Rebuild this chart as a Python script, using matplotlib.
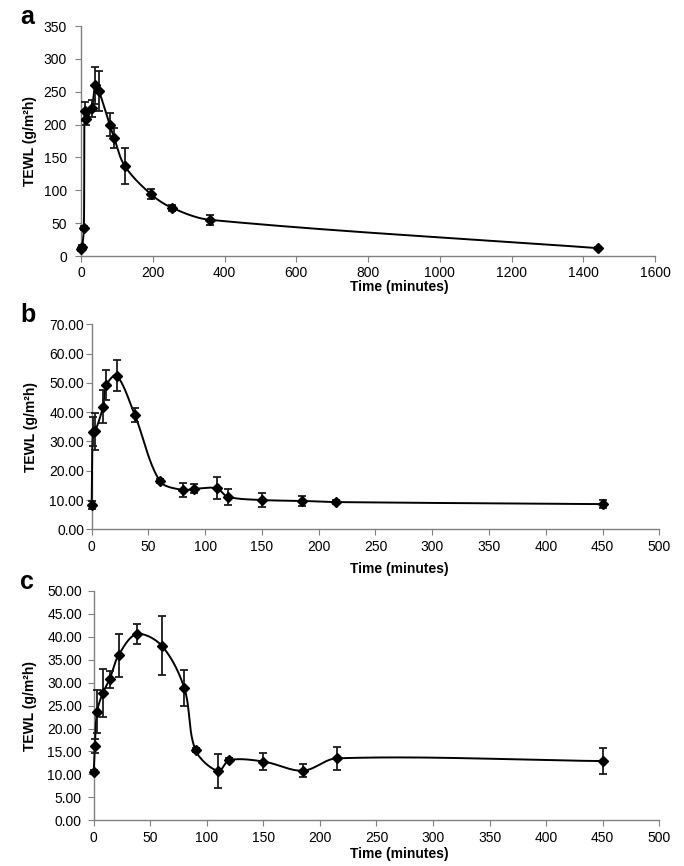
import numpy as np
import matplotlib.pyplot as plt
from matplotlib.ticker import FormatStrFormatter

plt.rcParams['font.family'] = ['Liberation Sans', 'DejaVu Sans']

# panel a
time_a = [0, 3, 8, 10, 15, 30, 40, 50, 80, 92, 122, 195, 255, 360, 1440]
tewl_a = [10, 13, 43, 220, 209, 225, 260, 251, 200, 180, 137, 94, 73, 55, 12]
err_a = [2, 3, 3, 15, 10, 13, 28, 30, 17, 15, 28, 8, 5, 8, 2]

# panel b
time_b = [0, 1, 3, 10, 13, 22, 38, 60, 80, 90, 110, 120, 150, 185, 215, 450]
tewl_b = [8.3, 33.3, 33.5, 41.9, 49.3, 52.5, 39.0, 16.5, 13.4, 13.8, 14.0, 11.1, 10.0, 9.7, 9.3, 8.6]
err_b = [1.2, 5.0, 6.3, 5.5, 5.2, 5.4, 2.5, 0.7, 2.5, 1.5, 3.7, 2.7, 2.3, 1.8, 0.8, 1.3]

# panel c
time_c = [0, 1, 3, 8, 14, 22, 38, 60, 80, 90, 110, 120, 150, 185, 215, 450]
tewl_c = [10.45, 16.2, 23.7, 27.7, 30.7, 36.0, 40.6, 38.1, 28.9, 15.3, 10.7, 13.1, 12.8, 10.8, 13.5, 12.9]
err_c = [0.4, 1.6, 4.7, 5.2, 1.9, 4.7, 2.2, 6.5, 3.9, 0.5, 3.7, 0.4, 1.9, 1.4, 2.5, 2.8]


def smooth_line(ax, x, y):
    # Excel style smoothed line, spline done in screen space,
    # tangents scaled by segment length so long gaps don't kink
    pts = ax.transData.transform(np.column_stack([x, y]))
    p = np.vstack([pts[0], pts, pts[-1]])
    t = np.linspace(0, 1, 40)[:, None]
    out = []
    for i in range(1, len(p) - 2):
        p0, p1, p2, p3 = p[i - 1], p[i], p[i + 1], p[i + 2]
        l01 = np.linalg.norm(p1 - p0)
        l12 = np.linalg.norm(p2 - p1)
        l23 = np.linalg.norm(p3 - p2)
        c1 = p1 + (p2 - p0) * l12 / (3 * (l01 + l12) + 1e-9)
        c2 = p2 - (p3 - p1) * l12 / (3 * (l12 + l23) + 1e-9)
        out.append((1 - t)**3 * p1 + 3 * (1 - t)**2 * t * c1 + 3 * (1 - t) * t**2 * c2 + t**3 * p2)
    curve = ax.transData.inverted().transform(np.vstack(out))
    ax.plot(curve[:, 0], curve[:, 1], color='black', lw=1.4, zorder=3, clip_on=False)


fig = plt.figure(figsize=(6.84, 8.66), dpi=100)

panels = [
    ('a', time_a, tewl_a, err_a, [81, 26, 655, 256], 1600, 200, 350, 50, '%d', 6, 30, 287),
    ('b', time_b, tewl_b, err_b, [91.7, 324.3, 659.3, 529.3], 500, 50, 70, 10, '%.2f', 1.5, 31, 569),
    ('c', time_c, tewl_c, err_c, [93.7, 591, 659.3, 820.2], 500, 50, 50, 5, '%.2f', 4.5, 30, 854),
]

W, H = 684, 866
for letter, tx, ty, te, box, xmax, xstep, ymax, ystep, fmt, ypad, ylab_x, xlab_y in panels:
    l, t, r, b = box
    ax = fig.add_axes([l / W, 1 - b / H, (r - l) / W, (b - t) / H])
    ax.set_xlim(0, xmax)
    ax.set_ylim(0, ymax)
    ax.set_xticks(np.arange(0, xmax + 1, xstep))
    ax.set_yticks(np.arange(0, ymax + 0.001, ystep))
    ax.yaxis.set_major_formatter(FormatStrFormatter(fmt))
    for s in ['top', 'right']:
        ax.spines[s].set_visible(False)
    for s in ['left', 'bottom']:
        ax.spines[s].set_color('#808080')
        ax.spines[s].set_linewidth(1.0)
        ax.spines[s].set_zorder(1)
    ax.tick_params(direction='out', length=4, width=0.8, color='#808080', labelsize=10)
    ax.tick_params(axis='y', pad=ypad)

    smooth_line(ax, tx, ty)
    ax.errorbar(tx, ty, yerr=te, fmt='D', ms=5.5, color='black', ecolor='#1a1a1a',
                elinewidth=1.3, capsize=3, capthick=1.3, zorder=4, clip_on=False)

    ax.set_ylabel('TEWL (g/m²h)', fontsize=10, fontweight='bold')
    ax.yaxis.set_label_coords((ylab_x - l) / (r - l), 0.5)
    ax.set_xlabel('Time (minutes)', fontsize=10, fontweight='bold')
    ax.xaxis.set_label_coords((399 - l) / (r - l), -(xlab_y - b) / (b - t))
    ax.xaxis.label.set_va('center')
    ax.yaxis.label.set_va('center')

    fig.text(20 / W, 1 - (t - 21) / H, letter, fontsize=18, fontweight='bold', va='top', ha='left')

fig.savefig('out.png', dpi=100)
